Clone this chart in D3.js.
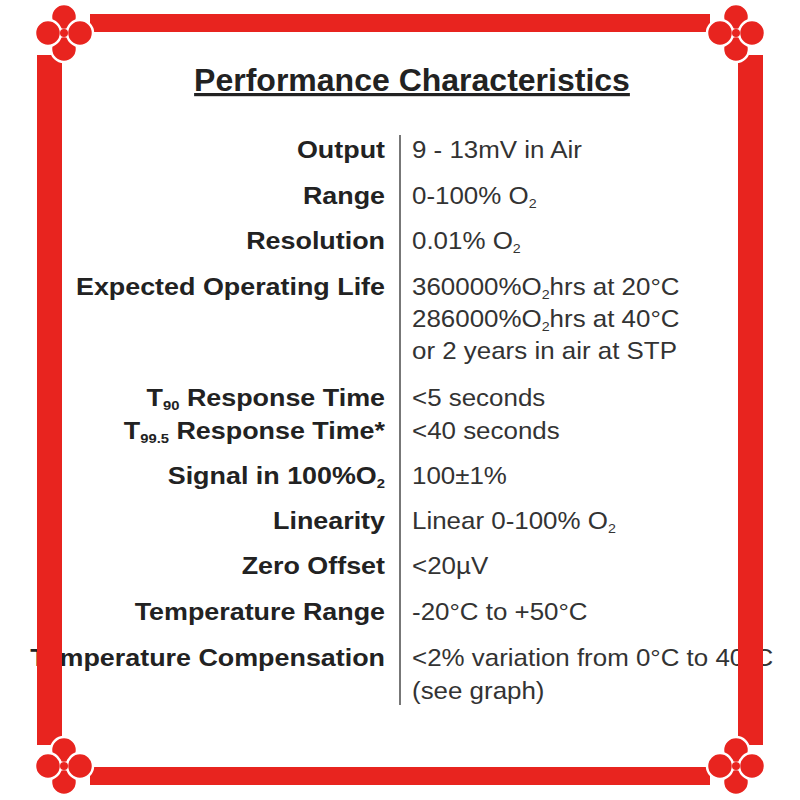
<!DOCTYPE html>
<html><head><meta charset="utf-8">
<script src="https://cdn.jsdelivr.net/npm/d3@7"></script>
<style>body{margin:0;background:#fff}</style>
</head><body><svg width="800" height="800"></svg>
<script>
// each part: [text, sub?]
var labels = [
  [["Output"]], [["Range"]], [["Resolution"]], [["Expected Operating Life"]],
  [["T"], ["90", 1], [" Response Time"]], [["T"], ["99.5", 1], [" Response Time*"]],
  [["Signal in 100%O"], ["2", 1]], [["Linearity"]], [["Zero Offset"]],
  [["Temperature  Range"]], [["Temperature Compensation"]]
];
var labelY = [158, 204, 249, 295, 406, 439, 484, 529, 574, 620, 666];
var values = [
  [["9 - 13mV in Air"]], [["0-100% O"], ["2", 1]], [["0.01% O"], ["2", 1]],
  [["360000%O"], ["2", 1], ["hrs at 20°C"]], [["286000%O"], ["2", 1], ["hrs at 40°C"]],
  [["or 2 years in air at STP"]], [["<5 seconds"]], [["<40 seconds"]], [["100±1%"]],
  [["Linear 0-100% O"], ["2", 1]], [["<20µV"]], [["-20°C to +50°C"]],
  [["<2% variation from 0°C to 40°C"]], [["(see graph)"]]
];
var valueY = [158, 204, 249, 295, 327, 359, 406, 439, 484, 529, 574, 620, 666, 699];

var svg = d3.select("svg");
var font = "Liberation Sans, Arial, sans-serif";

svg.append("text").attr("x", 412).attr("y", 91).attr("text-anchor", "middle")
  .attr("font-family", font).attr("font-weight", "bold").attr("font-size", 32)
  .attr("text-decoration", "underline").attr("fill", "#222").text("Performance Characteristics");

function addRuns(t, parts, size) {
  parts.forEach(function (p) {
    var s = t.append("tspan").text(p[0]);
    if (p[1]) s.attr("font-size", size * 0.55).attr("baseline-shift", "-30%");
  });
}
labels.forEach(function (l, i) {
  var t = svg.append("text")
    .attr("transform", "translate(385," + labelY[i] + ") scale(1.12,1)").attr("text-anchor", "end")
    .attr("font-family", font).attr("font-weight", "bold").attr("font-size", 24).attr("fill", "#222");
  addRuns(t, l, 24);
});
values.forEach(function (v, i) {
  var t = svg.append("text")
    .attr("transform", "translate(412," + valueY[i] + ") scale(1.08,1)")
    .attr("font-family", font).attr("font-size", 24).attr("fill", "#333");
  addRuns(t, v, 24);
});
svg.append("line").attr("x1", 400).attr("x2", 400).attr("y1", 135).attr("y2", 705)
  .attr("stroke", "#777").attr("stroke-width", 2);

// decorative border
var red = "#e8241f";
var b = svg.append("g").attr("fill", red);
b.append("rect").attr("x", 90).attr("y", 14).attr("width", 620).attr("height", 18);
b.append("rect").attr("x", 90).attr("y", 767).attr("width", 620).attr("height", 18);
b.append("rect").attr("x", 37).attr("y", 55).attr("width", 25).attr("height", 690);
b.append("rect").attr("x", 738).attr("y", 55).attr("width", 25).attr("height", 690);
[[64, 33], [736, 33], [64, 766], [736, 766]].forEach(function (c) {
  var g = svg.append("g").attr("transform", "translate(" + c[0] + "," + c[1] + ")");
  [[0, -16], [0, 16], [-16, 0], [16, 0]].forEach(function (o) {
    g.append("circle").attr("cx", o[0]).attr("cy", o[1]).attr("r", 13)
      .attr("fill", red).attr("stroke", "#fff").attr("stroke-width", 2.5);
  });
  g.append("circle").attr("r", 4).attr("fill", red);
});
</script></body></html>
